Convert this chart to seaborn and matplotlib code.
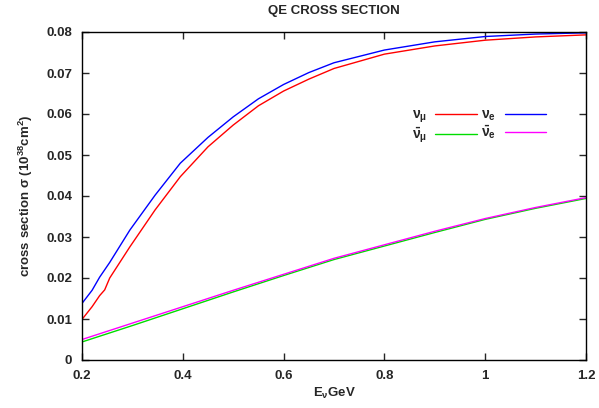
import numpy as np
import pandas as pd
import matplotlib
matplotlib.use("Agg")
import matplotlib.pyplot as plt
import seaborn as sns

# neutrino curves
energy = [0.20, 0.22, 0.235, 0.245, 0.255, 0.295, 0.345, 0.395, 0.45, 0.50, 0.55, 0.60,
          0.65, 0.70, 0.80, 0.90, 1.00, 1.10, 1.20]
nu_mu = [0.0099, 0.0130, 0.0157, 0.0171, 0.0200, 0.0276, 0.0366, 0.0447, 0.0520, 0.0573, 0.0620, 0.0656,
         0.0685, 0.0711, 0.0746, 0.0766, 0.0780, 0.0788, 0.0793]
nu_e = [0.0138, 0.0170, 0.0202, 0.0220, 0.0238, 0.0317, 0.0402, 0.0480, 0.0543, 0.0593, 0.0637, 0.0672,
        0.0701, 0.0725, 0.0756, 0.0776, 0.0789, 0.0795, 0.0798]

# antineutrino curves
energy_bar = [0.20, 0.30, 0.40, 0.50, 0.60, 0.70, 0.80, 0.90, 1.00, 1.10, 1.20]
nubar_mu = [0.0044, 0.0084, 0.0125, 0.0166, 0.0206, 0.0245, 0.0278, 0.0311, 0.0343, 0.0370, 0.0394]
nubar_e = [0.0050, 0.0090, 0.0130, 0.0170, 0.0209, 0.0248, 0.0281, 0.0314, 0.0345, 0.0372, 0.0396]

labels = [r"$\nu_\mu$", r"$\nu_e$", r"$\bar{\nu}_\mu$", r"$\bar{\nu}_e$"]
colors = ["#ff0000", "#0000ff", "#00dd00", "#ff00ff"]

rows = []
for lab, xs, ys in zip(labels, [energy, energy, energy_bar, energy_bar],
                       [nu_mu, nu_e, nubar_mu, nubar_e]):
    for x, y in zip(xs, ys):
        rows.append({"E": x, "sigma": y, "series": lab})
df = pd.DataFrame(rows)

sns.set_theme(style="ticks")
plt.rcParams["font.family"] = ["Liberation Sans", "DejaVu Sans"]
plt.rcParams["font.weight"] = "bold"
plt.rcParams["mathtext.fontset"] = "custom"
plt.rcParams["mathtext.rm"] = "Liberation Sans:bold"
plt.rcParams["mathtext.it"] = "Liberation Sans:bold"
plt.rcParams["mathtext.bf"] = "Liberation Sans:bold"
plt.rcParams["mathtext.default"] = "regular"

fig = plt.figure(figsize=(5.99, 4.08), dpi=100)
ax = fig.add_axes([82 / 599, 48 / 408, 504 / 599, 328 / 408])
sns.lineplot(data=df, x="E", y="sigma", hue="series", hue_order=labels,
             palette=dict(zip(labels, colors)), linewidth=1.0, ax=ax, legend=True)

ax.set_xlim(0.2, 1.2)
ax.set_ylim(0, 0.08)
ax.set_xticks([0.2, 0.4, 0.6, 0.8, 1.0, 1.2])
ax.set_xticklabels(["0.2", "0.4", "0.6", "0.8", "1", "1.2"])
ax.set_yticks([0, 0.01, 0.02, 0.03, 0.04, 0.05, 0.06, 0.07, 0.08])
ax.set_yticklabels(["0", "0.01", "0.02", "0.03", "0.04", "0.05", "0.06", "0.07", "0.08"])
ax.tick_params(direction="in", top=True, right=True, length=5, width=1, labelsize=9.5)
ax.tick_params(axis="x", pad=7)
ax.tick_params(axis="y", pad=7)
for lab in ax.get_xticklabels() + ax.get_yticklabels():
    lab.set_fontweight("bold")
for s in ax.spines.values():
    s.set_linewidth(1.0)
    s.set_color("black")

ax.set_xlabel(r"E$_\nu$GeV", fontsize=9.5, fontweight="bold", labelpad=3)
ax.set_ylabel(r"cross section $\sigma$ (10$^{38}$cm$^2$)", fontsize=9.5, fontweight="bold", labelpad=8)
ax.set_title("QE CROSS SECTION", fontsize=9.5, fontweight="bold", pad=13)

handles, lbls = ax.get_legend_handles_labels()
order = [0, 2, 1, 3]
ax.legend([handles[i] for i in order], [lbls[i] for i in order], ncol=2, markerfirst=False,
          frameon=False, fontsize=10, loc="center", bbox_to_anchor=(0.788, 0.712),
          handlelength=3.0, columnspacing=0.3, labelspacing=0.05, handletextpad=0.6)

fig.savefig("out.png", dpi=100)
